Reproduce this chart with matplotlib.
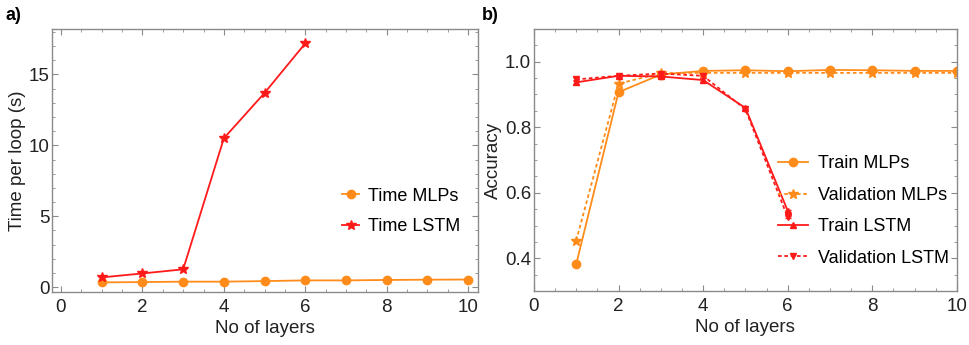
import matplotlib
matplotlib.use("Agg")
import matplotlib.pyplot as plt
from matplotlib.ticker import MultipleLocator, FormatStrFormatter
from matplotlib.lines import Line2D

plt.rcParams['font.family'] = ['Liberation Sans', 'DejaVu Sans']

layers_mlp = [1, 2, 3, 4, 5, 6, 7, 8, 9, 10]
layers_lstm = [1, 2, 3, 4, 5, 6]

time_mlp = [0.33, 0.35, 0.38, 0.38, 0.42, 0.47, 0.47, 0.50, 0.52, 0.53]
time_lstm = [0.68, 0.96, 1.25, 10.5, 13.7, 17.2]

train_mlp = [0.382, 0.907, 0.961, 0.972, 0.974, 0.971, 0.975, 0.974, 0.972, 0.972]
val_mlp = [0.454, 0.933, 0.965, 0.966, 0.966, 0.966, 0.966, 0.966, 0.966, 0.966]
train_lstm = [0.937, 0.957, 0.955, 0.944, 0.859, 0.545]
val_lstm = [0.946, 0.957, 0.964, 0.957, 0.855, 0.525]
err_lstm = [0.006, 0.004, 0.006, 0.006, 0.003, 0.003]

ORANGE = '#FF8C1A'
RED = '#FF1A1A'
FRAME = '#8a8a8a'
TXT = '#222222'

fig = plt.figure(figsize=(9.69, 3.45), dpi=100)
ax1 = fig.add_axes([0.0537, 0.1536, 0.440, 0.762])
ax2 = fig.add_axes([0.551, 0.1565, 0.4365, 0.7595])

def style(ax):
    for s in ax.spines.values():
        s.set_color(FRAME)
        s.set_linewidth(1.0)
    ax.tick_params(which='both', direction='in', top=True, right=True,
                   color=FRAME, labelsize=13.5, labelcolor=TXT)
    ax.tick_params(axis='x', pad=5)
    ax.tick_params(axis='y', pad=2)
    ax.tick_params(which='major', length=4, width=0.8)
    ax.tick_params(which='minor', length=2, width=0.6)
    ax.xaxis.set_major_locator(MultipleLocator(2))
    ax.xaxis.set_minor_locator(MultipleLocator(0.5))
    ax.set_xlabel('No of layers', fontsize=13.5, color=TXT, labelpad=3)

# Panel a
ax1.plot(layers_mlp, time_mlp, color=ORANGE, marker='o', ms=6, lw=1.3, label='Time MLPs')
ax1.plot(layers_lstm, time_lstm, color=RED, marker='*', ms=7, lw=1.3, label='Time LSTM')
ax1.set_xlim(-0.22, 10.25)
ax1.set_ylim(-0.35, 18.2)
style(ax1)
ax1.yaxis.set_major_locator(MultipleLocator(5))
ax1.yaxis.set_minor_locator(MultipleLocator(1))
ax1.set_ylabel('Time per loop (s)', fontsize=13.5, color=TXT, labelpad=2)
ax1.legend(loc='center left', bbox_to_anchor=(0.643, 0.306), frameon=False,
           fontsize=13, handlelength=0.9, handletextpad=0.5, labelspacing=0.75)

# Panel b
ax2.plot(layers_mlp, train_mlp, color=ORANGE, marker='o', ms=6, lw=1.3)
ax2.plot(layers_mlp, val_mlp, color=ORANGE, marker='*', ms=7, lw=1.3, ls=(0, (2, 1.5)))
ax2.errorbar(layers_lstm, train_lstm, yerr=err_lstm, color=RED, marker='^', ms=4, lw=1.3,
             capsize=2.5, elinewidth=1.2)
ax2.errorbar(layers_lstm, val_lstm, yerr=err_lstm, color=RED, marker='v', ms=4, lw=1.3,
             ls=(0, (2, 1.5)), capsize=2.5, elinewidth=1.2)
ax2.set_xlim(0, 10)
ax2.set_ylim(0.3, 1.1)
style(ax2)
ax2.yaxis.set_major_locator(MultipleLocator(0.2))
ax2.yaxis.set_minor_locator(MultipleLocator(0.05))
ax2.yaxis.set_major_formatter(FormatStrFormatter('%.1f'))
ax2.set_ylabel('Accuracy', fontsize=13.5, color=TXT, labelpad=2)
handles = [
    Line2D([], [], color=ORANGE, marker='o', ms=6, lw=1.3),
    Line2D([], [], color=ORANGE, marker='*', ms=7, lw=1.3, ls=(0, (2, 1.5))),
    Line2D([], [], color=RED, marker='^', ms=4, lw=1.3),
    Line2D([], [], color=RED, marker='v', ms=4, lw=1.3, ls=(0, (2, 1.5))),
]
labels = ['Train MLPs', 'Validation MLPs', 'Train LSTM', 'Validation LSTM']
ax2.legend(handles, labels, loc='center left', bbox_to_anchor=(0.539, 0.305), frameon=False,
           fontsize=13, handlelength=1.66, handletextpad=0.55, labelspacing=0.8)

fig.text(0.006, 0.955, 'a)', fontsize=13, fontweight='bold', ha='left', va='center')
fig.text(0.497, 0.955, 'b)', fontsize=13, fontweight='bold', ha='left', va='center')

fig.savefig('out.png', dpi=100)
